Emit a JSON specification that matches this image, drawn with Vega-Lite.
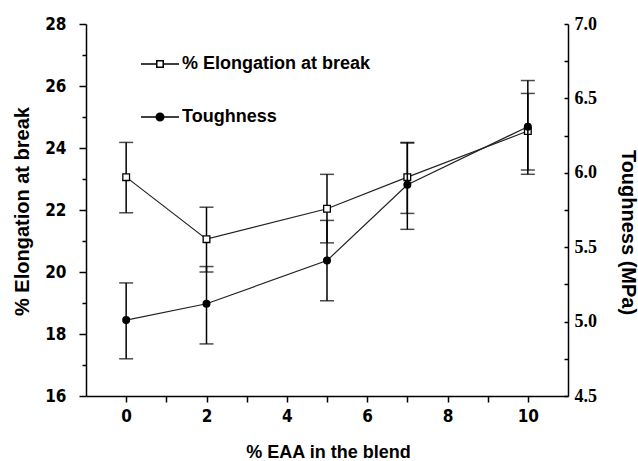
{
  "$schema": "https://vega.github.io/schema/vega-lite/v6.json",
  "width": 482,
  "height": 372,
  "autosize": {"type": "none"},
  "padding": {"left": 86, "top": 24, "right": 70, "bottom": 65},
  "background": "white",
  "config": {
    "view": {"stroke": null},
    "axis": {
      "grid": false,
      "domainColor": "black",
      "domainWidth": 1.5,
      "tickColor": "black",
      "tickWidth": 1.5,
      "labelColor": "black",
      "titleColor": "black"
    }
  },
  "datasets": {
    "el": [
      {"x": 0, "series": "% Elongation at break", "value": 23.06, "lo": 21.91, "hi": 24.18},
      {"x": 2, "series": "% Elongation at break", "value": 21.06, "lo": 20.0, "hi": 22.09},
      {"x": 5, "series": "% Elongation at break", "value": 22.04, "lo": 20.94, "hi": 23.15},
      {"x": 7, "series": "% Elongation at break", "value": 23.06, "lo": 21.89, "hi": 24.18},
      {"x": 10, "series": "% Elongation at break", "value": 24.55, "lo": 23.29, "hi": 25.76}
    ],
    "tg": [
      {"x": 0, "series": "Toughness", "value": 5.01, "lo": 4.75, "hi": 5.26},
      {"x": 2, "series": "Toughness", "value": 5.12, "lo": 4.85, "hi": 5.37},
      {"x": 5, "series": "Toughness", "value": 5.41, "lo": 5.14, "hi": 5.68},
      {"x": 7, "series": "Toughness", "value": 5.92, "lo": 5.62, "hi": 6.2},
      {"x": 10, "series": "Toughness", "value": 6.31, "lo": 5.99, "hi": 6.62}
    ]
  },
  "encoding": {
    "x": {
      "field": "x",
      "type": "quantitative",
      "scale": {"domain": [-1, 11], "nice": false, "zero": false},
      "axis": {
        "values": [0, 1, 2, 3, 4, 5, 6, 7, 8, 9, 10],
        "labelExpr": "datum.value % 2 == 0 ? datum.label : ''",
        "tickSize": 6,
        "labelPadding": 6,
        "labelFont": "Liberation Sans Narrow, DejaVu Sans Condensed, Liberation Sans",
        "labelFontWeight": "bold",
        "labelFontSize": 17,
        "title": "% EAA in the blend",
        "titleFont": "Liberation Sans",
        "titleFontWeight": "bold",
        "titleFontSize": 18,
        "titleX": 242,
        "titleY": 56,
        "titleAlign": "center",
        "titleBaseline": "middle",
        "titleAnchor": null
      }
    }
  },
  "layer": [
    {
      "data": {"name": "el"},
      "encoding": {
        "y": {
          "field": "value",
          "type": "quantitative",
          "title": "% Elongation at break",
          "scale": {"domain": [16, 28], "nice": false, "zero": false},
          "axis": {
            "orient": "left",
            "values": [16, 17, 18, 19, 20, 21, 22, 23, 24, 25, 26, 27, 28],
            "labelExpr": "datum.value % 2 == 0 ? datum.label : ''",
            "tickSize": {"condition": {"test": "datum.value % 2 == 0", "value": 7}, "value": 4},
            "labelPadding": 13,
            "labelFont": "Liberation Sans Narrow, DejaVu Sans Condensed, Liberation Sans",
            "labelFontWeight": "bold",
            "labelFontSize": 17,
            "titleFont": "Liberation Sans",
            "titleFontWeight": "bold",
            "titleFontSize": 20,
            "titleAngle": -90,
            "titleX": -64,
            "titleY": 187,
            "titleAlign": "center",
            "titleBaseline": "middle",
            "titleAnchor": null
          }
        }
      },
      "layer": [
        {
          "mark": {
            "type": "errorbar",
            "ticks": {"size": 14, "thickness": 1.5, "color": "black"},
            "rule": {"strokeWidth": 1.5, "color": "black"}
          },
          "encoding": {
            "y": {"field": "lo", "type": "quantitative", "title": "% Elongation at break"},
            "y2": {"field": "hi"}
          }
        },
        {
          "mark": {"type": "line", "color": "#222222", "strokeWidth": 1.2},
          "encoding": {}
        },
        {
          "mark": {"type": "point", "shape": "square", "filled": true, "fill": "white", "stroke": "black", "strokeWidth": 1.3, "opacity": 1, "size": 45},
          "encoding": {}
        },
        {
          "transform": [{"filter": "datum.x > 100"}],
          "mark": {"type": "point", "filled": true, "strokeWidth": 1.5, "opacity": 1, "size": 1444},
          "encoding": {
            "shape": {
              "field": "series",
              "type": "nominal",
              "scale": {
                "domain": ["% Elongation at break", "Toughness"],
                "range": [
                  "M-1,0H-0.2M0.2,0H1M-0.17,-0.17H0.17V0.17H-0.17Z",
                  "M-1,0H-0.2M0.2,0H1M-0.2,0A0.2,0.2,0,1,0,0.2,0A0.2,0.2,0,1,0,-0.2,0Z"
                ]
              },
              "legend": {
                "orient": "none",
                "legendX": 54,
                "legendY": 20,
                "title": null,
                "symbolSize": 1444,
                "symbolStrokeWidth": 1.5,
                "labelFont": "Liberation Sans",
                "labelFontWeight": "bold",
                "labelFontSize": 18,
                "labelColor": "black",
                "labelLimit": 400,
                "labelOffset": 2,
                "rowPadding": 24
              }
            },
            "fill": {
              "field": "series",
              "type": "nominal",
              "scale": {"domain": ["% Elongation at break", "Toughness"], "range": ["white", "black"]}
            },
            "stroke": {
              "field": "series",
              "type": "nominal",
              "scale": {"domain": ["% Elongation at break", "Toughness"], "range": ["black", "black"]}
            }
          }
        }
      ]
    },
    {
      "data": {"name": "tg"},
      "encoding": {
        "y": {
          "field": "value",
          "type": "quantitative",
          "title": "Toughness (MPa)",
          "scale": {"domain": [4.5, 7.0], "nice": false, "zero": false},
          "axis": {
            "orient": "right",
            "values": [4.5, 4.75, 5.0, 5.25, 5.5, 5.75, 6.0, 6.25, 6.5, 6.75, 7.0],
            "labelExpr": "round(datum.value * 4) % 2 == 0 ? format(datum.value, '.1f') : ''",
            "tickSize": -4,
            "labelPadding": 10,
            "labelFont": "Liberation Serif",
            "labelFontWeight": "bold",
            "labelFontSize": 18,
            "titleFont": "Liberation Sans",
            "titleFontWeight": "bold",
            "titleFontSize": 20,
            "titleAngle": 90,
            "titleX": 59,
            "titleY": 208,
            "titleAlign": "center",
            "titleBaseline": "middle",
            "titleAnchor": null
          }
        }
      },
      "layer": [
        {
          "mark": {
            "type": "errorbar",
            "ticks": {"size": 14, "thickness": 1.5, "color": "black"},
            "rule": {"strokeWidth": 1.5, "color": "black"}
          },
          "encoding": {
            "y": {"field": "lo", "type": "quantitative", "title": "Toughness (MPa)"},
            "y2": {"field": "hi"}
          }
        },
        {
          "mark": {"type": "line", "color": "#222222", "strokeWidth": 1.2},
          "encoding": {}
        },
        {
          "mark": {"type": "point", "shape": "circle", "filled": true, "fill": "black", "stroke": "black", "strokeWidth": 1.3, "opacity": 1, "size": 45},
          "encoding": {}
        }
      ]
    }
  ],
  "resolve": {"scale": {"y": "independent"}}
}
